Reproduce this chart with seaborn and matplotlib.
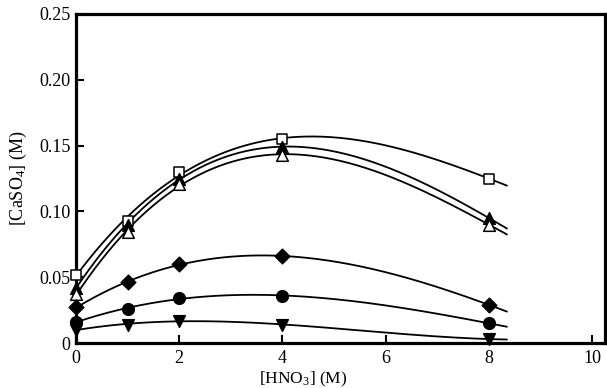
import numpy as np
import pandas as pd
import matplotlib
matplotlib.use("Agg")
import matplotlib.pyplot as plt
import seaborn as sns

# ---- data ----
hno3 = [0, 1, 2, 4, 8]
open_square = [0.052, 0.093, 0.130, 0.155, 0.125]
filled_triangle = [0.042, 0.090, 0.125, 0.149, 0.095]
open_triangle = [0.037, 0.084, 0.121, 0.143, 0.090]
filled_diamond = [0.027, 0.046, 0.060, 0.066, 0.029]
filled_circle = [0.016, 0.026, 0.034, 0.036, 0.015]
filled_tri_down = [0.010, 0.014, 0.017, 0.014, 0.003]

x_ticks = [0, 2, 4, 6, 8, 10]
y_ticks = [0, 0.05, 0.10, 0.15, 0.20, 0.25]
y_tick_labels = ["0", "0.05", "0.10", "0.15", "0.20", "0.25"]

series = [
    ("open_square", open_square, "s", "white"),
    ("filled_triangle", filled_triangle, "^", "black"),
    ("open_triangle", open_triangle, "^", "white"),
    ("filled_diamond", filled_diamond, "D", "black"),
    ("filled_circle", filled_circle, "o", "black"),
    ("filled_tri_down", filled_tri_down, "v", "black"),
]

sns.set_theme(style="ticks")
plt.rcParams["font.family"] = ["Liberation Serif", "DejaVu Serif"]
plt.rcParams["mathtext.fontset"] = "custom"
plt.rcParams["mathtext.rm"] = "Liberation Serif"
plt.rcParams["mathtext.it"] = "Liberation Serif"
plt.rcParams["mathtext.default"] = "regular"

fig = plt.figure(figsize=(6.07, 3.88), dpi=100)
ax = fig.add_axes([76 / 607, 1 - 343 / 388, 529 / 607, 329 / 388])

x_fit = np.linspace(0, 8.35, 200)
for name, vals, marker, face in series:
    coef = np.polyfit(hno3, vals, 3)
    fit_df = pd.DataFrame({"x": x_fit, "y": np.polyval(coef, x_fit)})
    sns.lineplot(data=fit_df, x="x", y="y", ax=ax, color="black", lw=1.3, zorder=2)
    pts = pd.DataFrame({"x": hno3, "y": vals})
    ms = 55 if marker in ("s", "D") else 70
    sns.scatterplot(data=pts, x="x", y="y", ax=ax, marker=marker, s=ms,
                    facecolor=face, edgecolor="black", linewidth=1.1, zorder=3,
                    clip_on=False)

ax.set_xlim(0, 10.25)
ax.set_ylim(0, 0.25)
ax.set_xticks(x_ticks)
ax.set_xticklabels([str(t) for t in x_ticks])
ax.set_yticks(y_ticks)
ax.set_yticklabels(y_tick_labels)

for sp in ax.spines.values():
    sp.set_visible(True)
    sp.set_linewidth(2.3)
    sp.set_color("black")

ax.tick_params(axis="both", direction="in", length=6, width=1.5,
               colors="black", labelsize=13)
ax.tick_params(axis="x", pad=5)
ax.tick_params(axis="y", pad=4)

ax.set_xlabel("[HNO$_3$] (M)", fontsize=12.5, color="black")
ax.set_ylabel("[CaSO$_4$] (M)", fontsize=13, color="black")
ax.xaxis.set_label_coords(0.43, -0.08)
ax.yaxis.set_label_coords(-0.088, 0.5)

fig.savefig("out.png", dpi=100, facecolor="white")
